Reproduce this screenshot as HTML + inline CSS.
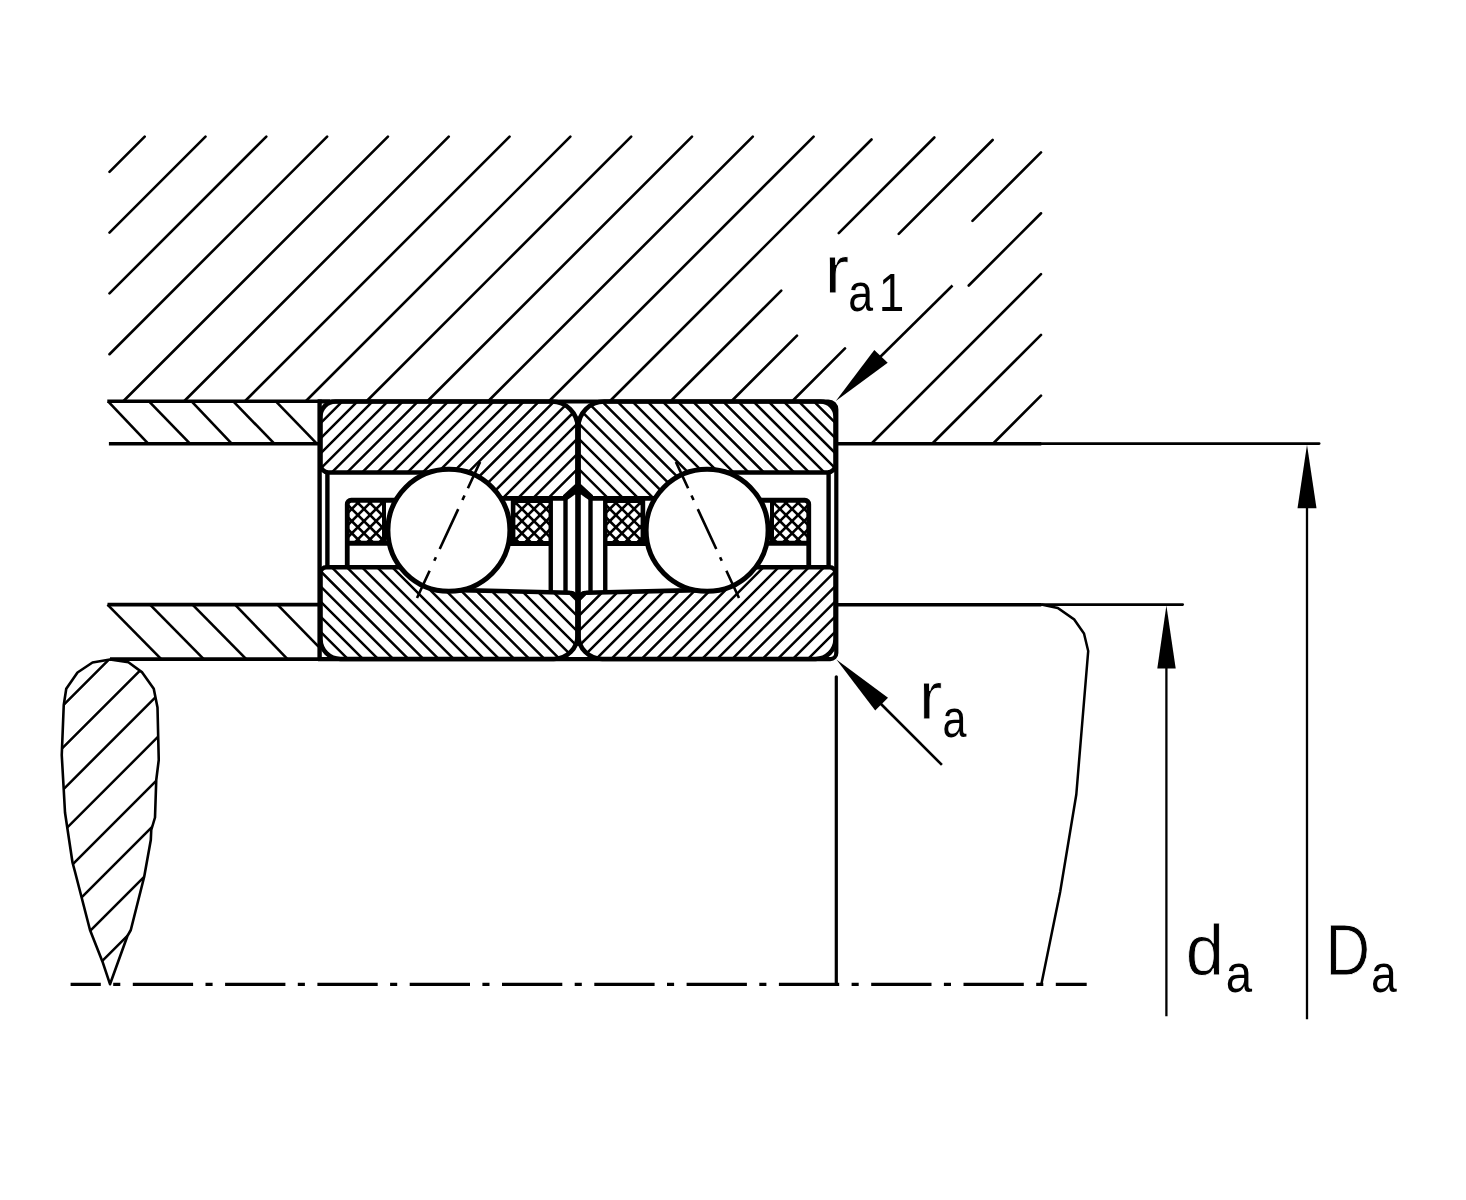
<!DOCTYPE html>
<html><head><meta charset="utf-8"><style>
html,body{margin:0;padding:0;background:#fff;width:1466px;height:1200px;overflow:hidden}
svg{display:block}
</style></head><body>
<svg width="1466" height="1200" viewBox="0 0 1466 1200">
<rect width="1466" height="1200" fill="#fff"/>
<g stroke="#000" fill="#000" stroke-linecap="butt">
<path d="M144.70 136.60L109.50 171.80M205.51 136.60L109.50 232.61M266.32 136.60L109.50 293.42M327.13 136.60L109.50 354.23M387.94 136.60L123.04 401.50M448.75 136.60L183.85 401.50M509.56 136.60L244.66 401.50M570.37 136.60L305.47 401.50M631.18 136.60L366.28 401.50M691.99 136.60L427.09 401.50M752.80 136.60L487.90 401.50M813.61 136.60L548.71 401.50M871.52 139.50L609.52 401.50M934.33 137.50L838.75 233.08M781.25 290.58L670.33 401.50M992.64 140.00L898.75 233.89M797.00 335.64L731.14 401.50M1041.00 152.45L972.50 220.95M845.00 348.45L791.95 401.50M1041.00 213.26L968.75 285.51M1041.00 274.07L871.82 443.25M1041.00 334.88L932.63 443.25M1041.00 395.69L993.44 443.25" stroke-width="2.6" fill="none" stroke-linecap="round"/>
<line x1="107.30" y1="401.30" x2="330.00" y2="401.30" stroke-width="3.6" />
<line x1="108.90" y1="443.70" x2="320.00" y2="443.70" stroke-width="3.6" />
<line x1="108.10" y1="401.30" x2="148.20" y2="443.70" stroke-width="2.6" />
<line x1="149.00" y1="401.30" x2="190.00" y2="443.70" stroke-width="2.6" />
<line x1="191.60" y1="401.30" x2="231.70" y2="443.70" stroke-width="2.6" />
<line x1="233.30" y1="401.30" x2="274.30" y2="443.70" stroke-width="2.6" />
<line x1="275.90" y1="401.30" x2="316.80" y2="443.70" stroke-width="2.6" />
<line x1="107.50" y1="604.60" x2="320.00" y2="604.60" stroke-width="3.6" />
<line x1="110.00" y1="659.10" x2="330.00" y2="659.10" stroke-width="3.6" />
<line x1="107.50" y1="604.60" x2="161.25" y2="659.10" stroke-width="2.6" />
<line x1="150.00" y1="604.60" x2="203.75" y2="659.10" stroke-width="2.6" />
<line x1="192.50" y1="604.60" x2="246.25" y2="659.10" stroke-width="2.6" />
<line x1="235.00" y1="604.60" x2="287.50" y2="659.10" stroke-width="2.6" />
<line x1="277.50" y1="604.60" x2="318.50" y2="646.60" stroke-width="2.6" />
<g transform="translate(-0.5 0)">
<clipPath id="co0"><path d="M336 401.5H552.25A26 26 0 0 1 578.25 427.5V485.5L565.5 498.4H449V472.5H329A8 8 0 0 1 321 464.5V416.5A15 15 0 0 1 336 401.5Z"/></clipPath>
<clipPath id="ci0"><path d="M327 567.2H449V589.9L570.25 592.7A8 8 0 0 1 578.25 600.7V635A24 24 0 0 1 554.25 659H341A20 20 0 0 1 321 639V573.2A6 6 0 0 1 327 567.2Z"/></clipPath>
<clipPath id="cc0"><rect x="349" y="500" width="34.5" height="42"/><rect x="515" y="501.5" width="35" height="40.5"/></clipPath>
<path d="M310.00 373.78L590.00 93.78M310.00 388.91L590.00 108.91M310.00 404.04L590.00 124.04M310.00 419.17L590.00 139.17M310.00 434.30L590.00 154.30M310.00 449.43L590.00 169.43M310.00 464.56L590.00 184.56M310.00 479.69L590.00 199.69M310.00 494.82L590.00 214.82M310.00 509.95L590.00 229.95M310.00 525.08L590.00 245.08M310.00 540.21L590.00 260.21M310.00 555.34L590.00 275.34M310.00 570.47L590.00 290.47M310.00 585.60L590.00 305.60M310.00 600.73L590.00 320.73M310.00 615.86L590.00 335.86M310.00 630.99L590.00 350.99M310.00 646.12L590.00 366.12M310.00 661.25L590.00 381.25M310.00 676.38L590.00 396.38M310.00 691.51L590.00 411.51M310.00 706.64L590.00 426.64M310.00 721.77L590.00 441.77M310.00 736.90L590.00 456.90M310.00 752.03L590.00 472.03M310.00 767.16L590.00 487.16M310.00 782.29L590.00 502.29M310.00 797.42L590.00 517.42" stroke-width="2.5" fill="none" clip-path="url(#co0)"/>
<path d="M310.00 681.18L590.00 961.18M310.00 666.05L590.00 946.05M310.00 650.92L590.00 930.92M310.00 635.79L590.00 915.79M310.00 620.66L590.00 900.66M310.00 605.53L590.00 885.53M310.00 590.40L590.00 870.40M310.00 575.27L590.00 855.27M310.00 560.14L590.00 840.14M310.00 545.01L590.00 825.01M310.00 529.88L590.00 809.88M310.00 514.75L590.00 794.75M310.00 499.62L590.00 779.62M310.00 484.49L590.00 764.49M310.00 469.36L590.00 749.36M310.00 454.23L590.00 734.23M310.00 439.10L590.00 719.10M310.00 423.97L590.00 703.97M310.00 408.84L590.00 688.84M310.00 393.71L590.00 673.71M310.00 378.58L590.00 658.58M310.00 363.45L590.00 643.45M310.00 348.32L590.00 628.32M310.00 333.19L590.00 613.19M310.00 318.06L590.00 598.06M310.00 302.93L590.00 582.93M310.00 287.80L590.00 567.80M310.00 272.67L590.00 552.67M310.00 257.54L590.00 537.54" stroke-width="2.5" fill="none" clip-path="url(#ci0)"/>
<path d="M340.00 557.40L560.00 777.40M340.00 545.25L560.00 765.25M340.00 533.10L560.00 753.10M340.00 520.95L560.00 740.95M340.00 508.80L560.00 728.80M340.00 496.65L560.00 716.65M340.00 484.50L560.00 704.50M340.00 472.35L560.00 692.35M340.00 460.20L560.00 680.20M340.00 448.05L560.00 668.05M340.00 435.90L560.00 655.90M340.00 423.75L560.00 643.75M340.00 411.60L560.00 631.60M340.00 399.45L560.00 619.45M340.00 387.30L560.00 607.30M340.00 375.15L560.00 595.15M340.00 363.00L560.00 583.00M340.00 350.85L560.00 570.85M340.00 338.70L560.00 558.70M340.00 326.55L560.00 546.55M340.00 314.40L560.00 534.40M340.00 302.25L560.00 522.25M340.00 290.10L560.00 510.10M340.00 277.95L560.00 497.95M340.00 265.80L560.00 485.80" stroke-width="2.6" fill="none" clip-path="url(#cc0)"/>
<path d="M340.00 484.80L560.00 264.80M340.00 496.95L560.00 276.95M340.00 509.10L560.00 289.10M340.00 521.25L560.00 301.25M340.00 533.40L560.00 313.40M340.00 545.55L560.00 325.55M340.00 557.70L560.00 337.70M340.00 569.85L560.00 349.85M340.00 582.00L560.00 362.00M340.00 594.15L560.00 374.15M340.00 606.30L560.00 386.30M340.00 618.45L560.00 398.45M340.00 630.60L560.00 410.60M340.00 642.75L560.00 422.75M340.00 654.90L560.00 434.90M340.00 667.05L560.00 447.05M340.00 679.20L560.00 459.20M340.00 691.35L560.00 471.35M340.00 703.50L560.00 483.50M340.00 715.65L560.00 495.65M340.00 727.80L560.00 507.80M340.00 739.95L560.00 519.95M340.00 752.10L560.00 532.10M340.00 764.25L560.00 544.25M340.00 776.40L560.00 556.40" stroke-width="2.6" fill="none" clip-path="url(#cc0)"/>
<path d="M336 401.5H552.25A26 26 0 0 1 578.25 427.5V485.5L565.5 498.4H449V472.5H329A8 8 0 0 1 321 464.5V416.5A15 15 0 0 1 336 401.5Z" stroke-width="4.6" fill="none"/>
<path d="M327 567.2H449V589.9L570.25 592.7A8 8 0 0 1 578.25 600.7V635A24 24 0 0 1 554.25 659H341A20 20 0 0 1 321 639V573.2A6 6 0 0 1 327 567.2Z" stroke-width="4.6" fill="none"/>
<line x1="327.90" y1="472.50" x2="327.90" y2="567.20" stroke-width="4.4" />
<path d="M347.75 567.2V504.5A4 4 0 0 1 351.75 500.25H400" stroke-width="4.8" fill="none"/>
<line x1="384.50" y1="500.25" x2="384.50" y2="543.25" stroke-width="4.0" />
<line x1="347.75" y1="543.25" x2="400.00" y2="543.25" stroke-width="4.8" />
<line x1="513.60" y1="498.40" x2="513.60" y2="543.50" stroke-width="4.6" />
<line x1="513.60" y1="501.00" x2="551.25" y2="501.00" stroke-width="4.0" />
<line x1="500.00" y1="543.50" x2="551.25" y2="543.50" stroke-width="4.8" />
<line x1="551.25" y1="498.40" x2="551.25" y2="592.30" stroke-width="4.4" />
<line x1="566.00" y1="498.40" x2="566.00" y2="592.50" stroke-width="4.4" />
<line x1="578.25" y1="417.00" x2="578.25" y2="645.50" stroke-width="5.0" />
<polygon points="563.5,495.2 575.2,484.5 578.25,484.5 578.25,496 575.5,494.4 571,497.8 568,499.8 563.5,499.8" stroke="none"/>
<circle cx="449.4" cy="530.3" r="61.0" fill="#fff" stroke-width="5"/>
<line x1="417.5" y1="598" x2="480.6" y2="461.9" stroke-width="2.6" stroke-dasharray="30 11 4 9 44 10 5 8 40"/>
</g>
<g transform="matrix(-1 0 0 1 1156 0) translate(-0.5 0)">
<clipPath id="co1"><path d="M336 401.5H552.25A26 26 0 0 1 578.25 427.5V485.5L565.5 498.4H449V472.5H329A8 8 0 0 1 321 464.5V416.5A15 15 0 0 1 336 401.5Z"/></clipPath>
<clipPath id="ci1"><path d="M327 567.2H449V589.9L570.25 592.7A8 8 0 0 1 578.25 600.7V635A24 24 0 0 1 554.25 659H341A20 20 0 0 1 321 639V573.2A6 6 0 0 1 327 567.2Z"/></clipPath>
<clipPath id="cc1"><rect x="349" y="500" width="34.5" height="42"/><rect x="515" y="501.5" width="35" height="40.5"/></clipPath>
<path d="M310.00 373.58L590.00 93.58M310.00 388.71L590.00 108.71M310.00 403.84L590.00 123.84M310.00 418.97L590.00 138.97M310.00 434.10L590.00 154.10M310.00 449.23L590.00 169.23M310.00 464.36L590.00 184.36M310.00 479.49L590.00 199.49M310.00 494.62L590.00 214.62M310.00 509.75L590.00 229.75M310.00 524.88L590.00 244.88M310.00 540.01L590.00 260.01M310.00 555.14L590.00 275.14M310.00 570.27L590.00 290.27M310.00 585.40L590.00 305.40M310.00 600.53L590.00 320.53M310.00 615.66L590.00 335.66M310.00 630.79L590.00 350.79M310.00 645.92L590.00 365.92M310.00 661.05L590.00 381.05M310.00 676.18L590.00 396.18M310.00 691.31L590.00 411.31M310.00 706.44L590.00 426.44M310.00 721.57L590.00 441.57M310.00 736.70L590.00 456.70M310.00 751.83L590.00 471.83M310.00 766.96L590.00 486.96M310.00 782.09L590.00 502.09M310.00 797.22L590.00 517.22" stroke-width="2.5" fill="none" clip-path="url(#co1)"/>
<path d="M310.00 680.98L590.00 960.98M310.00 665.85L590.00 945.85M310.00 650.72L590.00 930.72M310.00 635.59L590.00 915.59M310.00 620.46L590.00 900.46M310.00 605.33L590.00 885.33M310.00 590.20L590.00 870.20M310.00 575.07L590.00 855.07M310.00 559.94L590.00 839.94M310.00 544.81L590.00 824.81M310.00 529.68L590.00 809.68M310.00 514.55L590.00 794.55M310.00 499.42L590.00 779.42M310.00 484.29L590.00 764.29M310.00 469.16L590.00 749.16M310.00 454.03L590.00 734.03M310.00 438.90L590.00 718.90M310.00 423.77L590.00 703.77M310.00 408.64L590.00 688.64M310.00 393.51L590.00 673.51M310.00 378.38L590.00 658.38M310.00 363.25L590.00 643.25M310.00 348.12L590.00 628.12M310.00 332.99L590.00 612.99M310.00 317.86L590.00 597.86M310.00 302.73L590.00 582.73M310.00 287.60L590.00 567.60M310.00 272.47L590.00 552.47M310.00 257.34L590.00 537.34" stroke-width="2.5" fill="none" clip-path="url(#ci1)"/>
<path d="M340.00 557.40L560.00 777.40M340.00 545.25L560.00 765.25M340.00 533.10L560.00 753.10M340.00 520.95L560.00 740.95M340.00 508.80L560.00 728.80M340.00 496.65L560.00 716.65M340.00 484.50L560.00 704.50M340.00 472.35L560.00 692.35M340.00 460.20L560.00 680.20M340.00 448.05L560.00 668.05M340.00 435.90L560.00 655.90M340.00 423.75L560.00 643.75M340.00 411.60L560.00 631.60M340.00 399.45L560.00 619.45M340.00 387.30L560.00 607.30M340.00 375.15L560.00 595.15M340.00 363.00L560.00 583.00M340.00 350.85L560.00 570.85M340.00 338.70L560.00 558.70M340.00 326.55L560.00 546.55M340.00 314.40L560.00 534.40M340.00 302.25L560.00 522.25M340.00 290.10L560.00 510.10M340.00 277.95L560.00 497.95M340.00 265.80L560.00 485.80" stroke-width="2.6" fill="none" clip-path="url(#cc1)"/>
<path d="M340.00 484.80L560.00 264.80M340.00 496.95L560.00 276.95M340.00 509.10L560.00 289.10M340.00 521.25L560.00 301.25M340.00 533.40L560.00 313.40M340.00 545.55L560.00 325.55M340.00 557.70L560.00 337.70M340.00 569.85L560.00 349.85M340.00 582.00L560.00 362.00M340.00 594.15L560.00 374.15M340.00 606.30L560.00 386.30M340.00 618.45L560.00 398.45M340.00 630.60L560.00 410.60M340.00 642.75L560.00 422.75M340.00 654.90L560.00 434.90M340.00 667.05L560.00 447.05M340.00 679.20L560.00 459.20M340.00 691.35L560.00 471.35M340.00 703.50L560.00 483.50M340.00 715.65L560.00 495.65M340.00 727.80L560.00 507.80M340.00 739.95L560.00 519.95M340.00 752.10L560.00 532.10M340.00 764.25L560.00 544.25M340.00 776.40L560.00 556.40" stroke-width="2.6" fill="none" clip-path="url(#cc1)"/>
<path d="M336 401.5H552.25A26 26 0 0 1 578.25 427.5V485.5L565.5 498.4H449V472.5H329A8 8 0 0 1 321 464.5V416.5A15 15 0 0 1 336 401.5Z" stroke-width="4.6" fill="none"/>
<path d="M327 567.2H449V589.9L570.25 592.7A8 8 0 0 1 578.25 600.7V635A24 24 0 0 1 554.25 659H341A20 20 0 0 1 321 639V573.2A6 6 0 0 1 327 567.2Z" stroke-width="4.6" fill="none"/>
<line x1="327.90" y1="472.50" x2="327.90" y2="567.20" stroke-width="4.4" />
<path d="M347.75 567.2V504.5A4 4 0 0 1 351.75 500.25H400" stroke-width="4.8" fill="none"/>
<line x1="384.50" y1="500.25" x2="384.50" y2="543.25" stroke-width="4.0" />
<line x1="347.75" y1="543.25" x2="400.00" y2="543.25" stroke-width="4.8" />
<line x1="513.60" y1="498.40" x2="513.60" y2="543.50" stroke-width="4.6" />
<line x1="513.60" y1="501.00" x2="551.25" y2="501.00" stroke-width="4.0" />
<line x1="500.00" y1="543.50" x2="551.25" y2="543.50" stroke-width="4.8" />
<line x1="551.25" y1="498.40" x2="551.25" y2="592.30" stroke-width="4.4" />
<line x1="566.00" y1="498.40" x2="566.00" y2="592.50" stroke-width="4.4" />
<line x1="578.25" y1="417.00" x2="578.25" y2="645.50" stroke-width="5.0" />
<polygon points="563.5,495.2 575.2,484.5 578.25,484.5 578.25,496 575.5,494.4 571,497.8 568,499.8 563.5,499.8" stroke="none"/>
<circle cx="449.4" cy="530.3" r="61.0" fill="#fff" stroke-width="5"/>
<line x1="417.5" y1="598" x2="480.6" y2="461.9" stroke-width="2.6" stroke-dasharray="30 11 4 9 44 10 5 8 40"/>
</g>
<line x1="319.60" y1="399.50" x2="319.60" y2="661.00" stroke-width="4.4" />
<path d="M318 401.5H828.3A8 8 0 0 1 836.3 409.5V653.1A6 6 0 0 1 830.3 659.1H318" stroke-width="4.2" fill="none"/>
<line x1="836.30" y1="443.70" x2="1041.30" y2="443.70" stroke-width="3.6" />
<line x1="1041.30" y1="443.60" x2="1319.20" y2="443.60" stroke-width="2.6" stroke-linecap="round"/>
<line x1="836.30" y1="604.70" x2="1041.30" y2="604.70" stroke-width="3.6" />
<line x1="1041.30" y1="604.60" x2="1182.70" y2="604.60" stroke-width="2.6" stroke-linecap="round"/>
<line x1="836.30" y1="676.80" x2="836.30" y2="984.50" stroke-width="3.2" stroke-linecap="round"/>
<polyline points="1041.3,604.5 1057.75,608 1074.2,619.5 1084,633.5 1088.2,651 1076.3,794.5 1060.2,891.7 1041.5,983.4" fill="none" stroke-width="2.5"/>
<line x1="70.6" y1="984.3" x2="1086.7" y2="984.3" stroke-width="3.2" stroke-dasharray="60.3 12.4 7.1 12.5" stroke-dashoffset="30.1"/>
<clipPath id="leafc"><polygon points="110,659.5 128.4,662.3 142.2,672.4 153.75,688.75 157.5,707.5 158.75,760 156.25,780 155,817.5 151.25,830 150.8,840 144.2,876.7 130.8,930 127.5,935.8 110,984.2 102.5,961.7 90,930 75,871.7 72.5,862.5 65,812.5 63.75,790 61.75,755 63.75,705 66.25,688.75 77.5,672.5 92.5,662.5"/></clipPath>
<path d="M50.00 592.20L170.00 472.20M50.00 634.30L170.00 514.30M50.00 676.40L170.00 556.40M50.00 718.50L170.00 598.50M50.00 760.60L170.00 640.60M50.00 802.70L170.00 682.70M50.00 844.80L170.00 724.80M50.00 886.90L170.00 766.90M50.00 929.00L170.00 809.00M50.00 971.10L170.00 851.10M50.00 1013.20L170.00 893.20M50.00 1055.30L170.00 935.30M50.00 1097.40L170.00 977.40M50.00 1139.50L170.00 1019.50M50.00 1181.60L170.00 1061.60" stroke-width="2.5" fill="none" clip-path="url(#leafc)"/>
<polygon points="110,659.5 128.4,662.3 142.2,672.4 153.75,688.75 157.5,707.5 158.75,760 156.25,780 155,817.5 151.25,830 150.8,840 144.2,876.7 130.8,930 127.5,935.8 110,984.2 102.5,961.7 90,930 75,871.7 72.5,862.5 65,812.5 63.75,790 61.75,755 63.75,705 66.25,688.75 77.5,672.5 92.5,662.5" fill="none" stroke-width="2.6" stroke-linejoin="round"/>
<line x1="1307.00" y1="500.00" x2="1307.00" y2="1019.20" stroke-width="2.3" />
<polygon points="1307,444.8 1297.5,508.2 1316.5,508.2" stroke="none"/>
<line x1="1166.40" y1="660.00" x2="1166.40" y2="1016.30" stroke-width="2.3" />
<polygon points="1166.4,605.5 1157.3,668.5 1175.7,668.5" stroke="none"/>
<line x1="870.00" y1="367.00" x2="952.50" y2="285.50" stroke-width="2.5" />
<polygon points="835.8,401 874.3,349.9 887.7,362.8" stroke="none"/>
<line x1="880.00" y1="703.00" x2="941.90" y2="764.90" stroke-width="2.6" />
<polygon points="836.4,659.6 875.2,710.4 888,697.8" stroke="none"/>
<g fill="#000" font-family="'Liberation Sans', sans-serif" opacity="0.999">
<g stroke="#fff" stroke-width="0.8">
<text transform="translate(824.31 293.30) scale(1.094 1)" font-size="68.76">r</text>
<text transform="translate(918.67 718.60) scale(1.053 1)" font-size="67.65">r</text>
<text transform="translate(1185.81 974.50) scale(0.963 1)" font-size="71.35">d</text>
<text transform="translate(1325.53 975.20) scale(0.857 1)" font-size="72.09">D</text>
</g><g stroke="none">
<text transform="translate(848.21 311.08) scale(0.834 1)" font-size="53.48">a</text>
<text transform="translate(878.70 311.00) scale(0.856 1)" font-size="53.63">1</text>
<text transform="translate(942.47 736.88) scale(0.810 1)" font-size="53.12">a</text>
<text transform="translate(1225.79 991.98) scale(0.888 1)" font-size="53.30">a</text>
<text transform="translate(1371.03 991.98) scale(0.869 1)" font-size="53.30">a</text>
</g></g>
</g>
</svg>
</body></html>
